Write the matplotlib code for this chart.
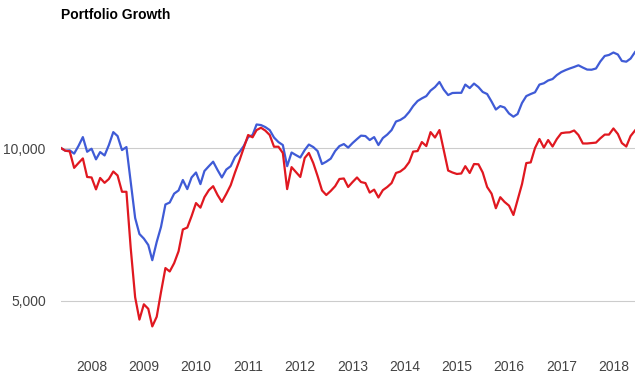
import numpy as np
import pandas as pd
import matplotlib
matplotlib.use('Agg')
import matplotlib.pyplot as plt
from matplotlib.ticker import NullLocator

plt.rcParams['font.family'] = ['Liberation Sans', 'DejaVu Sans']

# monthly portfolio values, Jun 2007 - Jun 2018
months = pd.date_range('2007-06-01', '2018-06-01', freq='MS')

portfolio_1 = [
    10000, 9880, 9896, 9750, 10091, 10510, 9833, 9970, 9500, 9820,
    9670, 10137, 10750, 10560, 9910, 10045, 8570, 7280, 6770, 6630,
    6440, 6010, 6530, 6990, 7740, 7810, 8130, 8250, 8650, 8300,
    8750, 8950, 8490, 9010, 9210, 9400, 9050, 8750, 9070, 9210,
    9600, 9820, 10090, 10510, 10610, 11130, 11100, 11000, 10850, 10490,
    10276, 10137, 9210, 9800, 9687, 9580, 9910, 10160, 10045, 9865,
    9300, 9400, 9530, 9865, 10090, 10183, 10020, 10230, 10417, 10580,
    10560, 10370, 10510, 10137, 10465, 10632, 10850, 11280, 11360, 11510,
    11780, 12100, 12380, 12530, 12660, 12980, 13190, 13500, 13040, 12720,
    12840, 12850, 12850, 13340, 13130, 13400, 13190, 12900, 12780, 12350,
    11910, 12100, 12020, 11700, 11530, 11670, 12270, 12660, 12780, 12880,
    13340, 13420, 13590, 13680, 13930, 14120, 14250, 14350, 14450, 14560,
    14410, 14280, 14270, 14350, 14810, 15190, 15260, 15430, 15290, 14850,
    14800, 15010, 15460,
]

portfolio_2 = [
    10000, 9880, 9850, 9140, 9340, 9540, 8770, 8750, 8290, 8730,
    8540, 8690, 8990, 8830, 8200, 8200, 6350, 5080, 4590, 4920,
    4820, 4450, 4650, 5200, 5800, 5710, 5930, 6260, 6910, 6970,
    7340, 7790, 7630, 8000, 8260, 8410, 8080, 7830, 8120, 8450,
    8950, 9450, 10000, 10610, 10500, 10850, 10966, 10826, 10610, 10060,
    10060, 9776, 8300, 9170, 8970, 8770, 9560, 9780, 9340, 8810,
    8250, 8080, 8230, 8410, 8690, 8710, 8380, 8570, 8750, 8570,
    8530, 8170, 8280, 7990, 8260, 8380, 8530, 8930, 8990, 9130,
    9380, 9840, 9865, 10276, 10090, 10750, 10490, 10850, 9910, 9030,
    8950, 8890, 8910, 9210, 8930, 9300, 9290, 8950, 8380, 8130,
    7610, 8000, 7830, 7700, 7380, 7900, 8490, 9340, 9370, 10000,
    10420, 10020, 10370, 10070, 10420, 10700, 10730, 10740, 10830, 10610,
    10210, 10210, 10230, 10250, 10450, 10630, 10630, 10930, 10660, 10230,
    10070, 10560, 10830,
]

years = list(range(2008, 2019))
y_ticks = [5000, 10000]
y_labels = ['5,000', '10,000']

fig = plt.figure(figsize=(6.4, 3.89), dpi=100)
ax = fig.add_axes([61 / 640, 44 / 389, 574 / 640, 315 / 389])

ax.plot(months, portfolio_1, color='#3f5bd6', lw=1.6, solid_joinstyle='round', zorder=3)
ax.plot(months, portfolio_2, color='#e01820', lw=1.6, solid_joinstyle='round', zorder=4)

ax.set_yscale('log')
ax.set_ylim(4090, 17090)
ax.set_xlim(months[0], months[-1])

ax.set_yticks(y_ticks)
ax.set_yticklabels(y_labels)
ax.yaxis.set_minor_locator(NullLocator())
ax.set_xticks([pd.Timestamp(y, 1, 1) for y in years])
ax.set_xticklabels([str(y) for y in years])

ax.grid(axis='y', color='#cccccc', lw=0.8)
ax.set_axisbelow(True)
for s in ax.spines.values():
    s.set_visible(False)
ax.tick_params(axis='both', length=0, labelsize=10, labelcolor='#444444')
ax.tick_params(axis='x', pad=11)
ax.tick_params(axis='y', pad=11)

fig.text(61 / 640, 1 - 15 / 389, 'Portfolio Growth', fontsize=10,
         fontweight='bold', ha='left', va='center', color='#000000')

fig.savefig('out.png', dpi=100)
